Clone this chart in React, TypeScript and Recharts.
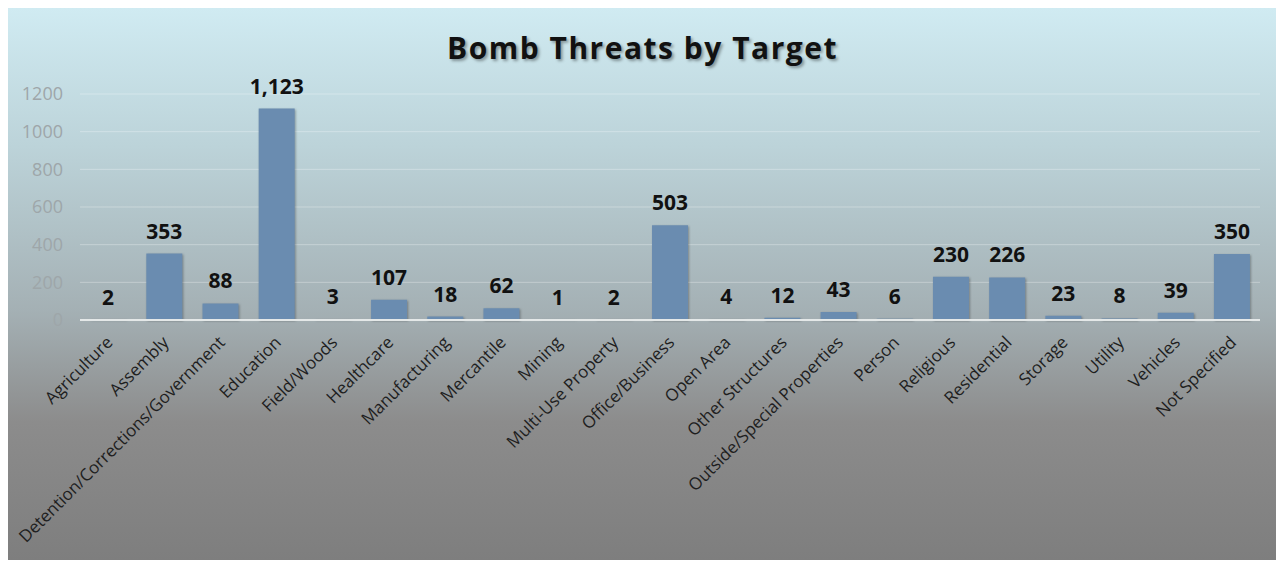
import React from 'react';
import { BarChart, Bar, XAxis, YAxis, CartesianGrid, LabelList } from 'recharts';

const targets = [
  'Agriculture',
  'Assembly',
  'Detention/Corrections/Government',
  'Education',
  'Field/Woods',
  'Healthcare',
  'Manufacturing',
  'Mercantile',
  'Mining',
  'Multi-Use Property',
  'Office/Business',
  'Open Area',
  'Other Structures',
  'Outside/Special Properties',
  'Person',
  'Religious',
  'Residential',
  'Storage',
  'Utility',
  'Vehicles',
  'Not Specified',
];

const threats = [2, 353, 88, 1123, 3, 107, 18, 62, 1, 2, 503, 4, 12, 43, 6, 230, 226, 23, 8, 39, 350];

const yTicks = [0, 200, 400, 600, 800, 1000, 1200];

const data = targets.map((target, i) => ({ target, threats: threats[i] }));

const FONT = '"Open Sans", "Liberation Sans", sans-serif';

const RotatedTick = (props: any) => {
  const { x, y, payload } = props;
  return (
    <g transform={`translate(${x + 2},${y + 12})`}>
      <text
        transform="rotate(-45)"
        textAnchor="end"
        fill="#1e1e1e"
        fontSize={17}
        fontFamily={FONT}
        dy={5}
      >
        {payload.value}
      </text>
    </g>
  );
};

export default function App() {
  return (
    <div
      style={{
        position: 'relative',
        width: 1269,
        height: 552,
        background: 'linear-gradient(to bottom, #d0ebf2 0%, #bcd3d9 25%, #a4b0b4 55%, #8c8c8c 75%, #7e7e7e 100%)',
      }}
    >
      <div
        style={{
          position: 'absolute',
          top: 19,
          left: 0,
          width: '100%',
          textAlign: 'center',
          fontFamily: FONT,
          fontWeight: 700,
          fontSize: 30,
          letterSpacing: 1.5,
          color: '#111',
          textShadow: '2px 2px 3px rgba(0,0,0,0.35)',
        }}
      >
        Bomb Threats by Target
      </div>
      <BarChart
        width={1269}
        height={552}
        data={data}
        margin={{ top: 86, right: 17, bottom: 0, left: 0 }}
        barCategoryGap="18%"
      >
        <CartesianGrid vertical={false} stroke="rgba(255,255,255,0.3)" />
        <XAxis
          dataKey="target"
          interval={0}
          height={240}
          tick={<RotatedTick />}
          tickLine={false}
          axisLine={{ stroke: '#e4e8e8', strokeWidth: 2 }}
        />
        <YAxis
          domain={[0, 1200]}
          ticks={yTicks}
          width={72}
          tickSize={0}
          tickMargin={17}
          axisLine={false}
          tickLine={false}
          tick={{ fill: '#9ea6a9', fontSize: 18, fontFamily: FONT }}
        />
        <Bar dataKey="threats" fill="#6a8cb0" isAnimationActive={false} style={{ filter: 'drop-shadow(1px 1px 1px rgba(0,0,0,0.3))' }}>
          <LabelList
            dataKey="threats"
            position="top"
            offset={15}
            formatter={(v: any) => Number(v).toLocaleString('en-US')}
            style={{ fill: '#111', fontWeight: 700, fontSize: 21, fontFamily: FONT }}
          />
        </Bar>
      </BarChart>
    </div>
  );
}
